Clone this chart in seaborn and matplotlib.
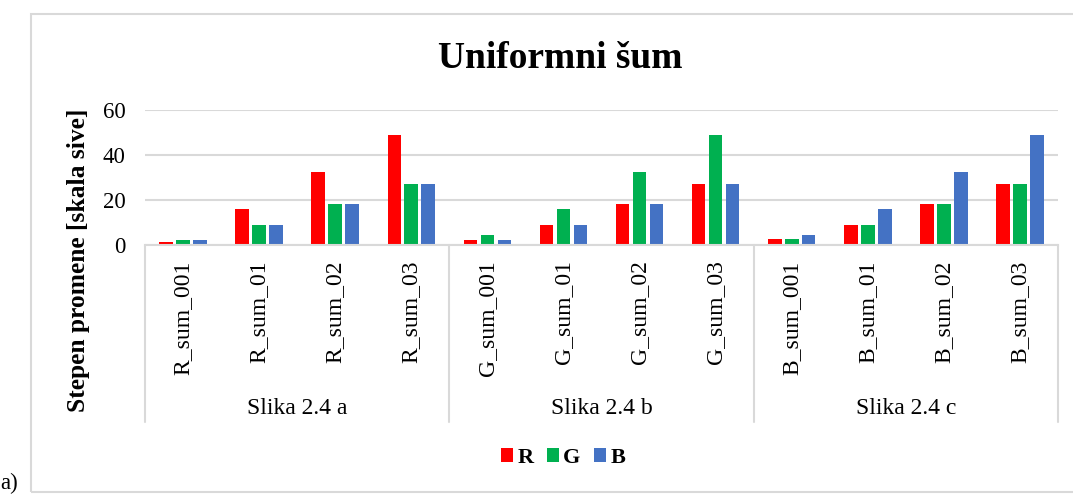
import matplotlib
matplotlib.use("Agg")
import matplotlib.pyplot as plt
from matplotlib.patches import Rectangle, Patch
from matplotlib.lines import Line2D
import seaborn as sns
import pandas as pd

# data
categories = ["R_sum_001", "R_sum_01", "R_sum_02", "R_sum_03",
              "G_sum_001", "G_sum_01", "G_sum_02", "G_sum_03",
              "B_sum_001", "B_sum_01", "B_sum_02", "B_sum_03"]
groups = ["Slika 2.4 a", "Slika 2.4 b", "Slika 2.4 c"]
r_vals = [1.5, 16.2, 32.5, 48.9, 2.4, 8.9, 18.2, 27.2, 2.5, 8.9, 18.2, 27.2]
g_vals = [2.2, 9.0, 18.1, 27.2, 4.4, 16.2, 32.6, 48.9, 2.5, 8.9, 18.2, 27.2]
b_vals = [2.2, 9.0, 18.1, 27.2, 2.2, 8.9, 18.2, 27.2, 4.6, 16.2, 32.6, 48.9]
channels = ["R", "G", "B"]
colors = ["#FF0000", "#00B050", "#4472C4"]

df = pd.DataFrame({
    "kat": categories * 3,
    "kanal": ["R"] * 12 + ["G"] * 12 + ["B"] * 12,
    "vrednost": r_vals + g_vals + b_vals,
})

sns.set_style("white")
plt.rcParams["font.family"] = ["Liberation Serif", "DejaVu Serif"]
plt.rcParams["text.color"] = "black"
plt.rcParams["xtick.color"] = "black"
plt.rcParams["ytick.color"] = "black"

W, H = 1073, 494
fig = plt.figure(figsize=(W / 100, H / 100), dpi=100)
ax = fig.add_axes([145 / W, 1 - 245 / H, (1058 - 145) / W, 135 / H])

sns.barplot(data=df, x="kat", y="vrednost", hue="kanal", hue_order=channels,
            palette=colors, saturation=1, width=0.67, gap=0.2, errorbar=None,
            linewidth=0, legend=False, ax=ax)

grid_c = "#D9D9D9"
ax.set_ylim(0, 60)
ax.set_xlim(-0.5, 11.5)
ax.set_yticks([0, 20, 40, 60])
ax.yaxis.grid(True, color=grid_c, linewidth=1.5)
ax.set_axisbelow(True)
for s in ["top", "right", "left"]:
    ax.spines[s].set_visible(False)
ax.spines["bottom"].set_color(grid_c)
ax.spines["bottom"].set_linewidth(1.5)
ax.tick_params(axis="y", length=0, pad=14, labelsize=16.5)
ax.tick_params(axis="x", length=0, pad=11, labelsize=17, labelrotation=90)
ax.set_xlabel("")
ax.set_ylabel("")

# group separators and group labels under the category labels
trans = ax.get_xaxis_transform()
y_low = -(422 - 245) / 135
for xb in [-0.5, 3.5, 7.5, 11.5]:
    ax.add_line(Line2D([xb, xb], [0, y_low], transform=trans, color=grid_c,
                       linewidth=1.5, clip_on=False))
for i, g in enumerate(groups):
    ax.text(i * 4 + 1.5, -(408 - 245) / 135, g, transform=trans,
            ha="center", va="center", fontsize=17)

fig.text(79 / W, 1 - 260 / H, "Stepen promene [skala sive]", rotation=90,
         ha="center", va="center", fontsize=18.4, fontweight="bold")
fig.text(560 / W, 1 - 58 / H, "Uniformni šum", ha="center", va="center",
         fontsize=27, fontweight="bold")

handles = [Patch(facecolor=c, edgecolor="none") for c in colors]
fig.legend(handles, channels, loc="center", ncol=3,
           bbox_to_anchor=(563 / W, 1 - 458 / H), frameon=False,
           handlelength=0.55, handleheight=0.55, handletextpad=0.2,
           columnspacing=0.6, borderpad=0.2,
           prop={"size": 16, "weight": "bold"})

# chart area border
fig.patches.append(Rectangle((31 / W, 1 - 492 / H), 1.1, (492 - 14) / H,
                             transform=fig.transFigure, fill=False,
                             edgecolor=grid_c, linewidth=1.5))
fig.text(0.0, 0.0, "a)", ha="left", va="bottom", fontsize=16.5)

fig.savefig("out.png", dpi=100)
